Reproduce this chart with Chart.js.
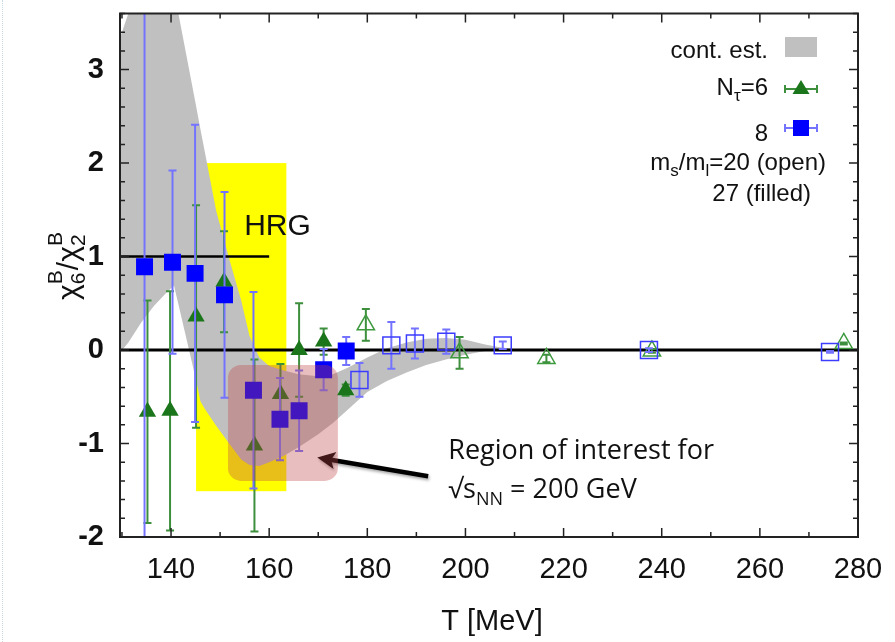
<!DOCTYPE html>
<html>
<head>
<meta charset="utf-8">
<script src="https://cdn.jsdelivr.net/npm/chart.js@4.4.0/dist/chart.umd.min.js"></script>
<style>
  html, body { margin: 0; padding: 0; background: #fff; }
  #wrap { position: relative; width: 895px; height: 642px; }
  #edge { position: absolute; left: 2px; top: 0; bottom: 0; border-left: 1px dotted #c9dbe6; }
  canvas { display: block; }
</style>
</head>
<body>
<div id="wrap"><div id="edge"></div><canvas id="chart" width="895" height="642"></canvas></div>
<script>
// axis setup
const xMin = 129.6, xMax = 280;
const yMin = -2, yMax = 3.6;
const xTicks = [140, 160, 180, 200, 220, 240, 260, 280];
const yTicks = [-2, -1, 0, 1, 2, 3];

// continuum estimate band (upper / lower edge)
const bandT     = [129.6, 131.3, 134, 136.5, 139, 140.6, 141.5, 145, 146, 147, 149.2, 152, 154.3, 156, 158, 160, 163, 166, 170, 173, 176, 180, 184, 188, 192, 196, 200, 204, 207, 210];
const bandUpper = [3.34, 3.6, 4.2, 4.5, 4.1, 3.8, 3.6, 2.64, 2.36, 2.09, 1.49, 0.95, 0.53, 0.15, -0.08, -0.17, -0.22, -0.26, -0.28, -0.26, -0.19, -0.08, 0.02, 0.08, 0.12, 0.13, 0.11, 0.06, 0.03, 0.01];
const bandLower = [-0.03, 0.08, 0.3, 0.47, 0.61, 0.69, 0.49, -0.3, -0.55, -0.64, -0.81, -1.01, -1.17, -1.23, -1.24, -1.2, -1.13, -1.04, -0.9, -0.78, -0.64, -0.45, -0.33, -0.24, -0.16, -0.1, -0.05, -0.01, 0.01, 0.01];

// N_tau = 8, ms/ml = 27 (filled squares)
const nt8FilledT   = [134.6, 140.3, 144.9, 150.9, 156.8, 162.2, 166.1, 171.1, 175.7];
const nt8FilledY   = [0.89, 0.94, 0.82, 0.59, -0.43, -0.74, -0.65, -0.21, -0.01];
const nt8FilledErr = [2.9, 0.98, 1.59, 1.1, 1.05, 0.44, 0.43, 0.22, 0.15];

// N_tau = 8, ms/ml = 20 (open squares)
const nt8OpenT   = [178.4, 184.9, 189.7, 196.1, 207.6, 237.4, 274.3];
const nt8OpenY   = [-0.32, 0.05, 0.07, 0.09, 0.05, 0.0, -0.02];
const nt8OpenErr = [0.18, 0.25, 0.16, 0.13, 0.04, 0.02, 0.01];

// N_tau = 6, ms/ml = 27 (filled triangles)
const nt6FilledT   = [135.2, 139.8, 145.1, 150.8, 157.0, 162.3, 166.1, 171.1, 175.6];
const nt6FilledY   = [-0.66, -0.65, 0.36, 0.73, -1.02, -0.47, 0.0, 0.09, -0.43];
const nt6FilledErr = [1.19, 1.28, 1.19, 0.54, 0.92, 0.32, 0.5, 0.14, 0.06];

// N_tau = 6, ms/ml = 20 (open triangles)
const nt6OpenT   = [179.7, 198.8, 216.5, 238.0, 277.1];
const nt6OpenY   = [0.27, -0.03, -0.09, -0.01, 0.07];
const nt6OpenErr = [0.17, 0.17, 0.04, 0.02, 0.01];

// HRG value and its T range, HRG box
const hrgValue = 1, hrgEnd = 160;
const hrgBox = { x0: 145.1, x1: 163.5, y0: -1.51, y1: 2.0 };

// highlighted region and arrow (data units)
const roiBox = { x0: 151.6, x1: 174.0, y0: -1.40, y1: -0.16 };
const arrowTail = { x: 192.4, y: -1.35 }, arrowTip = { x: 169.8, y: -1.15 };

const BLUE = '#0000ff', BLUE_ERR = '#7373ff', BLUE_OPEN = '#3c3cff';
const GREEN = '#1b761b', GREEN_ERR = '#3d8f3d', GREEN_OPEN = '#3f9a3f';
const SANS = '"Liberation Sans", Arial, Helvetica, sans-serif';

const pts = (xs, ys) => xs.map((x, i) => ({ x: x, y: ys[i] }));

// vertical error bars, drawn just under each marker set
const errorBars = {
  id: 'errorBars',
  beforeDatasetDraw(chart, args) {
    const ds = chart.data.datasets[args.index];
    if (!ds.errors) return;
    const { ctx, chartArea: a, scales: { x, y } } = chart;
    ctx.save();
    ctx.beginPath();
    ctx.rect(a.left, a.top, a.right - a.left, a.bottom - a.top);
    ctx.clip();
    ctx.strokeStyle = ds.errorColor;
    ctx.lineWidth = 2;
    ds.data.forEach((p, i) => {
      const px = x.getPixelForValue(p.x);
      const top = y.getPixelForValue(p.y + ds.errors[i]);
      const bot = y.getPixelForValue(p.y - ds.errors[i]);
      ctx.beginPath();
      ctx.moveTo(px, top); ctx.lineTo(px, bot);
      ctx.moveTo(px - 4, top); ctx.lineTo(px + 4, top);
      ctx.moveTo(px - 4, bot); ctx.lineTo(px + 4, bot);
      ctx.stroke();
    });
    ctx.restore();
  }
};

// text with sub/superscripts
function richWidth(ctx, parts) {
  let w = 0;
  parts.forEach(p => {
    ctx.font = p.f;
    if (p.t !== undefined) w += ctx.measureText(p.t).width;
    else w += Math.max(p.sub ? ctx.measureText(p.sub).width : 0, p.sup ? ctx.measureText(p.sup).width : 0);
  });
  return w;
}
function drawRich(ctx, parts, x, y) {
  ctx.textAlign = 'left';
  ctx.textBaseline = 'alphabetic';
  parts.forEach(p => {
    ctx.font = p.f;
    if (p.t !== undefined) {
      ctx.fillText(p.t, x, y);
      x += ctx.measureText(p.t).width;
    } else {
      let w = 0;
      if (p.sub) { ctx.fillText(p.sub, x, y + p.subDy); w = ctx.measureText(p.sub).width; }
      if (p.sup) { ctx.fillText(p.sup, x, y + p.supDy); w = Math.max(w, ctx.measureText(p.sup).width); }
      x += w;
    }
  });
}

// yellow HRG box behind everything
const backdrop = {
  id: 'backdrop',
  beforeDatasetsDraw(chart) {
    const { ctx, scales: { x, y } } = chart;
    ctx.save();
    ctx.fillStyle = '#ffff00';
    const l = x.getPixelForValue(hrgBox.x0), r = x.getPixelForValue(hrgBox.x1);
    const t = y.getPixelForValue(hrgBox.y1), b = y.getPixelForValue(hrgBox.y0);
    ctx.fillRect(l, t, r - l, b - t);
    ctx.restore();
  }
};

// frame, mirrored inward ticks, labels, legend and the annotation
const decorations = {
  id: 'decorations',
  afterDatasetsDraw(chart) {
    const { ctx, chartArea: a, scales: { x, y } } = chart;
    ctx.save();

    // arrow (sits under the translucent box)
    const tx = x.getPixelForValue(arrowTail.x), ty = y.getPixelForValue(arrowTail.y);
    const hx = x.getPixelForValue(arrowTip.x), hy = y.getPixelForValue(arrowTip.y);
    const ang = Math.atan2(hy - ty, hx - tx);
    ctx.shadowColor = 'rgba(0,0,0,0.35)';
    ctx.shadowBlur = 3;
    ctx.shadowOffsetX = 1;
    ctx.shadowOffsetY = 2;
    ctx.strokeStyle = '#000';
    ctx.lineWidth = 4.5;
    ctx.beginPath();
    ctx.moveTo(tx, ty);
    ctx.lineTo(hx - Math.cos(ang) * 12, hy - Math.sin(ang) * 12);
    ctx.stroke();
    ctx.fillStyle = '#000';
    ctx.beginPath();
    ctx.moveTo(hx, hy);
    ctx.lineTo(hx - Math.cos(ang - 0.45) * 20, hy - Math.sin(ang - 0.45) * 20);
    ctx.lineTo(hx - Math.cos(ang) * 14, hy - Math.sin(ang) * 14);
    ctx.lineTo(hx - Math.cos(ang + 0.45) * 20, hy - Math.sin(ang + 0.45) * 20);
    ctx.closePath();
    ctx.fill();
    ctx.shadowColor = 'transparent';

    // translucent region-of-interest box
    const rl = x.getPixelForValue(roiBox.x0), rr = x.getPixelForValue(roiBox.x1);
    const rt = y.getPixelForValue(roiBox.y1), rb = y.getPixelForValue(roiBox.y0);
    ctx.fillStyle = 'rgba(189,69,69,0.35)';
    ctx.beginPath();
    ctx.roundRect(rl, rt, rr - rl, rb - rt, 13);
    ctx.fill();

    // frame
    ctx.strokeStyle = '#222';
    ctx.lineWidth = 2;
    ctx.strokeRect(a.left, a.top, a.right - a.left, a.bottom - a.top);

    // inward ticks on all four sides
    ctx.lineWidth = 1.5;
    ctx.beginPath();
    for (let v = 130; v <= xMax; v += 10) {
      const px = x.getPixelForValue(v);
      const len = v % 20 === 0 ? 9 : 5;
      ctx.moveTo(px, a.bottom); ctx.lineTo(px, a.bottom - len);
      ctx.moveTo(px, a.top); ctx.lineTo(px, a.top + len);
    }
    for (let k = -10; k <= 18; k++) {
      const v = k / 5;
      const py = y.getPixelForValue(v);
      const len = k % 5 === 0 ? 9 : 5;
      ctx.moveTo(a.left, py); ctx.lineTo(a.left + len, py);
      ctx.moveTo(a.right, py); ctx.lineTo(a.right - len, py);
    }
    ctx.stroke();

    ctx.fillStyle = '#111';

    // HRG label
    ctx.font = '30px ' + SANS;
    ctx.textAlign = 'left';
    ctx.textBaseline = 'alphabetic';
    ctx.fillText('HRG', x.getPixelForValue(154.9), y.getPixelForValue(1.23));

    // axis titles
    ctx.font = '29px ' + SANS;
    ctx.textAlign = 'center';
    ctx.fillText('T [MeV]', (a.left + a.right) / 2 + 3, 630);

    const big = '30px ' + SANS, small = '21px ' + SANS;
    const yTitle = [
      { t: 'χ', f: big }, { sub: '6', sup: 'B', f: small, subDy: 7, supDy: -16 },
      { t: '/', f: big },
      { t: 'χ', f: big }, { sub: '2', sup: 'B', f: small, subDy: 7, supDy: -16 }
    ];
    ctx.save();
    ctx.translate(78, 266);
    ctx.rotate(-Math.PI / 2);
    drawRich(ctx, yTitle, -richWidth(ctx, yTitle) / 2, 0);
    ctx.restore();

    // legend
    const lf = '24px ' + SANS, lsub = '17px ' + SANS;
    const right = a.right - 90;
    const rows = [
      { parts: [{ t: 'cont. est.', f: lf }], base: 58, shift: 0 },
      { parts: [{ t: 'N', f: lf }, { sub: 'τ', f: lsub, subDy: 6 }, { t: '=6', f: lf }], base: 95, shift: 0 },
      { parts: [{ t: '8', f: lf }], base: 141, shift: 0 },
      { parts: [{ t: 'm', f: lf }, { sub: 's', f: lsub, subDy: 6 }, { t: '/m', f: lf }, { sub: 'l', f: lsub, subDy: 6 }, { t: '=20 (open)', f: lf }], base: 170, shift: 58 },
      { parts: [{ t: '27 (filled)', f: lf }], base: 201, shift: 43 }
    ];
    ctx.fillStyle = '#111';
    rows.forEach(r => drawRich(ctx, r.parts, right + r.shift - richWidth(ctx, r.parts), r.base));

    const sx = a.right - 57;
    ctx.fillStyle = '#c0c0c0';
    ctx.fillRect(sx - 16, 37, 32, 20);

    const sampleBar = (cy, col) => {
      ctx.strokeStyle = col;
      ctx.lineWidth = 2;
      ctx.beginPath();
      ctx.moveTo(sx - 16, cy); ctx.lineTo(sx + 16, cy);
      ctx.moveTo(sx - 16, cy - 4); ctx.lineTo(sx - 16, cy + 4);
      ctx.moveTo(sx + 16, cy - 4); ctx.lineTo(sx + 16, cy + 4);
      ctx.stroke();
    };
    sampleBar(89, GREEN_ERR);
    ctx.fillStyle = GREEN;
    ctx.beginPath();
    ctx.moveTo(sx, 89 - 9); ctx.lineTo(sx + 8.5, 89 + 5); ctx.lineTo(sx - 8.5, 89 + 5);
    ctx.closePath();
    ctx.fill();
    sampleBar(128, BLUE_ERR);
    ctx.fillStyle = BLUE;
    ctx.fillRect(sx - 8, 128 - 8, 16, 16);

    // annotation text
    ctx.fillStyle = '#111';
    const af = '27px "Open Sans", "Noto Sans", sans-serif', asub = '18px "Open Sans", "Noto Sans", sans-serif';
    const ax = x.getPixelForValue(196.5);
    drawRich(ctx, [{ t: 'Region of interest for', f: af }], ax, y.getPixelForValue(-1.17));
    drawRich(ctx, [{ t: '√s', f: af }, { sub: 'NN', f: asub, subDy: 7 }, { t: ' = 200 GeV', f: af }], ax, y.getPixelForValue(-1.58));

    ctx.restore();
  }
};

const lineSet = (data, extra) => Object.assign({
  type: 'line', data: data, pointRadius: 0, borderColor: '#000', borderWidth: 3,
  fill: false, tension: 0
}, extra);

// keep the plot box fixed: no extra room for half-labels at the ends
const noPad = s => { s.paddingTop = 0; s.paddingBottom = 0; s.paddingLeft = 0; s.paddingRight = 0; };

new Chart(document.getElementById('chart'), {
  type: 'line',
  data: {
    datasets: [
      lineSet(pts(bandT, bandUpper), { borderWidth: 0, borderColor: 'rgba(0,0,0,0)', backgroundColor: '#c0c0c0', fill: '+1', order: 10 }),
      lineSet(pts(bandT, bandLower), { borderWidth: 0, borderColor: 'rgba(0,0,0,0)', order: 9 }),
      lineSet([{ x: xMin, y: 0 }, { x: xMax, y: 0 }], { order: 6 }),
      lineSet([{ x: xMin, y: hrgValue }, { x: hrgEnd, y: hrgValue }], { borderWidth: 2.5, order: 6 }),
      {
        data: pts(nt6OpenT, nt6OpenY), errors: nt6OpenErr, errorColor: GREEN_ERR,
        showLine: false, pointStyle: 'triangle', pointRadius: 10, pointBackgroundColor: 'rgba(0,0,0,0)',
        pointBorderColor: GREEN_OPEN, pointBorderWidth: 1.5, order: 4
      },
      {
        data: pts(nt8OpenT, nt8OpenY), errors: nt8OpenErr, errorColor: BLUE_ERR,
        showLine: false, pointStyle: 'rect', pointRadius: 12, pointBackgroundColor: 'rgba(0,0,0,0)',
        pointBorderColor: BLUE_OPEN, pointBorderWidth: 1.5, order: 3
      },
      {
        data: pts(nt6FilledT, nt6FilledY), errors: nt6FilledErr, errorColor: GREEN_ERR,
        showLine: false, pointStyle: 'triangle', pointRadius: 10, pointBackgroundColor: GREEN,
        pointBorderColor: GREEN, pointBorderWidth: 0, order: 2
      },
      {
        data: pts(nt8FilledT, nt8FilledY), errors: nt8FilledErr, errorColor: BLUE_ERR,
        showLine: false, pointStyle: 'rect', pointRadius: 12, pointBackgroundColor: BLUE,
        pointBorderColor: BLUE, pointBorderWidth: 0, order: 1
      }
    ]
  },
  options: {
    responsive: false,
    animation: false,
    devicePixelRatio: 1,
    layout: { padding: { top: 12, right: 37, left: 0, bottom: 0 } },
    plugins: { legend: { display: false }, tooltip: { enabled: false } },
    scales: {
      x: {
        type: 'linear', min: xMin, max: xMax,
        afterBuildTicks: s => { s.ticks = xTicks.map(v => ({ value: v })); },
        afterFit: s => { s.height = 105; noPad(s); },
        grid: { display: false, drawTicks: false },
        border: { display: false },
        ticks: { font: { family: SANS, size: 29 }, color: '#111', padding: 16, maxRotation: 0, autoSkip: false }
      },
      y: {
        type: 'linear', min: yMin, max: yMax,
        afterBuildTicks: s => { s.ticks = yTicks.map(v => ({ value: v })); },
        afterFit: s => { s.width = 120; noPad(s); },
        grid: { display: false, drawTicks: false },
        border: { display: false },
        ticks: { font: { family: SANS, size: 29, weight: 'bold' }, color: '#111', padding: 16, autoSkip: false }
      }
    }
  },
  plugins: [backdrop, errorBars, decorations]
});
</script>
</body>
</html>
